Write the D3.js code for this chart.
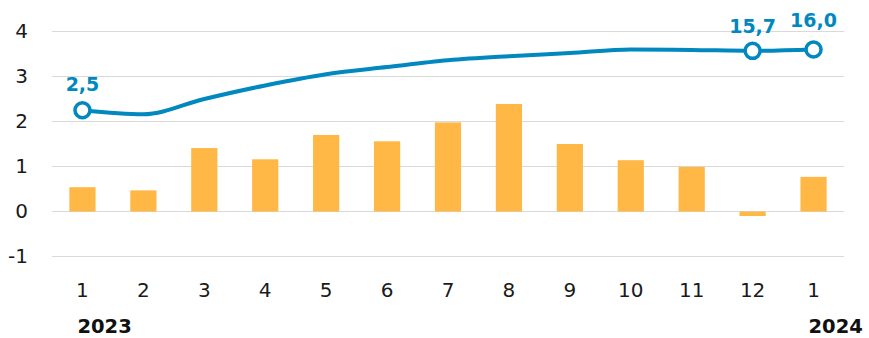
<!DOCTYPE html>
<html>
<head>
<meta charset="utf-8">
<script src="https://cdn.jsdelivr.net/npm/d3@7"></script>
<style>
  html, body { margin: 0; padding: 0; background: #ffffff; }
  svg { display: block; }
  text { font-family: "DejaVu Sans", sans-serif; }
</style>
</head>
<body>
<svg id="chart" width="869" height="338"></svg>
<script>
// Months (Jan 2023 – Jan 2024)
const months = ["1", "2", "3", "4", "5", "6", "7", "8", "9", "10", "11", "12", "1"];
// Monthly change, % (bars, left axis)
const monthly = [0.54, 0.47, 1.41, 1.16, 1.70, 1.56, 1.98, 2.39, 1.50, 1.14, 0.99, -0.10, 0.77];
// Cumulative / year-on-year, % (line, secondary scale)
const cumulative = [2.5, 1.6, 5.0, 8.0, 10.5, 12.1, 13.6, 14.5, 15.2, 16.0, 15.9, 15.7, 16.0];
// Points on the line that carry a value label
const labelled = [0, 11, 12];
// Left axis ticks
const yTicks = [-1, 0, 1, 2, 3, 4];
// Year captions below the month axis
const years = [{ idx: 0, text: "2023" }, { idx: 12, text: "2024" }];

const svg = d3.select("#chart");
const plotLeft = 52, plotRight = 844, plotTop = 31.5, plotBottom = 256.5;

const x = d3.scaleBand()
  .domain(d3.range(months.length))
  .range([plotLeft, plotRight])
  .paddingInner(0.57)
  .paddingOuter(0.285);

const y = d3.scaleLinear().domain([-1, 4]).range([plotBottom, plotTop]);
// Secondary scale for the line: -30..20 spans the same height as -1..4
const y2 = d3.scaleLinear().domain([-30, 20]).range([plotBottom, plotTop]);

const cx = i => x(i) + x.bandwidth() / 2;

// Horizontal gridlines
svg.append("g")
  .selectAll("line")
  .data(yTicks)
  .join("line")
  .attr("x1", plotLeft).attr("x2", plotRight)
  .attr("y1", d => y(d)).attr("y2", d => y(d))
  .attr("stroke", "#d9d9d9")
  .attr("stroke-width", 1);

// Left axis labels (plain hyphen for negatives)
const yAxis = svg.append("g")
  .attr("transform", `translate(${plotLeft},0)`)
  .call(d3.axisLeft(y).tickValues(yTicks).tickSize(0).tickPadding(24).tickFormat(d => String(d)));
yAxis.select(".domain").remove();
yAxis.selectAll("text")
  .attr("font-size", 20)
  .attr("fill", "#1a1a1a")
  .style("font-family", "'DejaVu Sans', sans-serif");

// Bars
svg.append("g")
  .selectAll("rect")
  .data(monthly)
  .join("rect")
  .attr("x", (d, i) => x(i))
  .attr("width", x.bandwidth())
  .attr("y", d => y(Math.max(0, d)))
  .attr("height", d => Math.abs(y(d) - y(0)))
  .attr("fill", "#ffb845");

// Line
const line = d3.line()
  .x((d, i) => cx(i))
  .y(d => y2(d))
  .curve(d3.curveMonotoneX);

svg.append("path")
  .datum(cumulative)
  .attr("d", line)
  .attr("fill", "none")
  .attr("stroke", "#0088bf")
  .attr("stroke-width", 4)
  .attr("stroke-linejoin", "round");

// Markers on labelled points
svg.append("g")
  .selectAll("circle")
  .data(labelled)
  .join("circle")
  .attr("cx", i => cx(i))
  .attr("cy", i => y2(cumulative[i]))
  .attr("r", 7.5)
  .attr("fill", "#ffffff")
  .attr("stroke", "#0088bf")
  .attr("stroke-width", 3.5);

// Value labels above markers
const labelLift = { 0: 19, 11: 17.5, 12: 22.5 };
const fmt = v => d3.format(".1f")(v).replace(".", ",");
svg.append("g")
  .selectAll("text")
  .data(labelled)
  .join("text")
  .attr("x", i => cx(i))
  .attr("y", i => y2(cumulative[i]) - labelLift[i])
  .attr("text-anchor", "middle")
  .attr("font-size", 19)
  .attr("font-weight", "bold")
  .attr("fill", "#0088bf")
  .text(i => fmt(cumulative[i]));

// Month labels
svg.append("g")
  .selectAll("text")
  .data(months)
  .join("text")
  .attr("x", (d, i) => cx(i))
  .attr("y", 297)
  .attr("text-anchor", "middle")
  .attr("font-size", 20)
  .attr("fill", "#1a1a1a")
  .text(d => d);

// Year captions
svg.append("g")
  .selectAll("text")
  .data(years)
  .join("text")
  .attr("x", d => cx(d.idx) - 5)
  .attr("y", 333)
  .attr("text-anchor", "start")
  .attr("font-size", 19.5)
  .attr("font-weight", "bold")
  .attr("fill", "#111111")
  .text(d => d.text);
</script>
</body>
</html>
